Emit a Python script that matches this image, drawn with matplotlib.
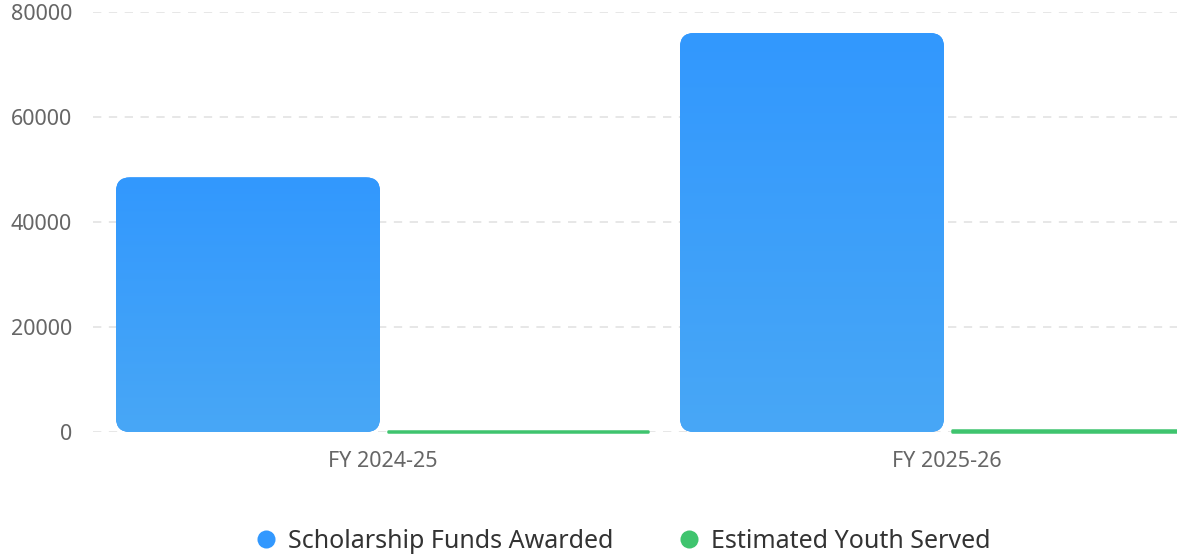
import numpy as np
import matplotlib
matplotlib.use("Agg")
import matplotlib.pyplot as plt
from matplotlib.patches import FancyBboxPatch
from matplotlib.lines import Line2D
from matplotlib.colors import LinearSegmentedColormap

# ── Data ──────────────────────────────────────────────
categories = ["FY 2024-25", "FY 2025-26"]
funds = [48500, 76000]
youth = [250, 350]
series_names = ["Scholarship Funds Awarded", "Estimated Youth Served"]
y_ticks = [0, 20000, 40000, 60000, 80000]

BLUE_TOP = "#3298fe"
BLUE_BOT = "#48a7f6"
GREEN = "#3fc46e"
TICK_COLOR = "#666666"
GRID_COLOR = "#e3e3e3"

plt.rcParams["font.family"] = ["Noto Sans", "DejaVu Sans"]

W, H = 1177, 557
fig = plt.figure(figsize=(W / 100, H / 100), dpi=100)

# axes in pixel terms: left 93, right at figure edge, y0 at 432, 80000 at 12
ax = fig.add_axes([93 / W, (H - 432) / H, (W - 93) / W, 420 / H])

px_per_cat = 564.0
x_left = -(383 - 93) / px_per_cat
x_right = (W - 383) / px_per_cat
ax.set_xlim(x_left, x_right)
ax.set_ylim(0, 80000)

bar_w = 264 / px_per_cat
offset = 135 / px_per_cat
radius_px = 14
r_x = radius_px / px_per_cat
aspect = (80000 / 420) / (1 / px_per_cat)

grad = np.linspace(0, 1, 256).reshape(-1, 1)
cmap = LinearSegmentedColormap.from_list("bluegrad", [BLUE_BOT, BLUE_TOP])

x = np.arange(len(categories))
for xi, val in zip(x, funds):
    left = xi - offset - bar_w / 2
    patch = FancyBboxPatch((left, 0), bar_w, val,
                           boxstyle=f"round,pad=0,rounding_size={r_x}",
                           mutation_aspect=aspect,
                           facecolor=BLUE_TOP, edgecolor="none",
                           clip_on=False, zorder=2)
    ax.add_patch(patch)
    img = ax.imshow(grad, extent=(left, left + bar_w, 0, val), origin="lower",
                    cmap=cmap, aspect="auto", zorder=3)
    img.set_clip_path(patch)

ax.bar(x + offset, youth, width=bar_w - 4 / px_per_cat, color=GREEN,
       edgecolor=GREEN, linewidth=1.8, capstyle="round", joinstyle="round",
       zorder=2, clip_on=False)

ax.set_aspect("auto")
ax.set_xlim(x_left, x_right)
ax.set_ylim(0, 80000)

ax.set_xticks(x)
ax.set_xticklabels(categories)
ax.set_yticks(y_ticks)
ax.set_yticklabels([str(t) for t in y_ticks])
ax.tick_params(axis="both", length=0, colors=TICK_COLOR)
ax.tick_params(axis="y", pad=15, labelsize=15.5)
ax.tick_params(axis="x", pad=14, labelsize=15.5)

ax.grid(axis="y", color=GRID_COLOR, linestyle=(0, (5, 4.5)), linewidth=1.2, zorder=0)
ax.set_axisbelow(True)
for s in ax.spines.values():
    s.set_visible(False)

handles = [
    Line2D([], [], linestyle="none", marker="o", markersize=13,
           markerfacecolor=BLUE_TOP, markeredgecolor="none"),
    Line2D([], [], linestyle="none", marker="o", markersize=13,
           markerfacecolor=GREEN, markeredgecolor="none"),
]
fig.legend(handles, series_names, loc="center", bbox_to_anchor=(622 / W, (H - 541) / H),
           ncol=2, frameon=False, fontsize=18, handlelength=1.0, handletextpad=0.4,
           columnspacing=2.5, labelcolor="#333333")

fig.savefig("out.png", dpi=100)
